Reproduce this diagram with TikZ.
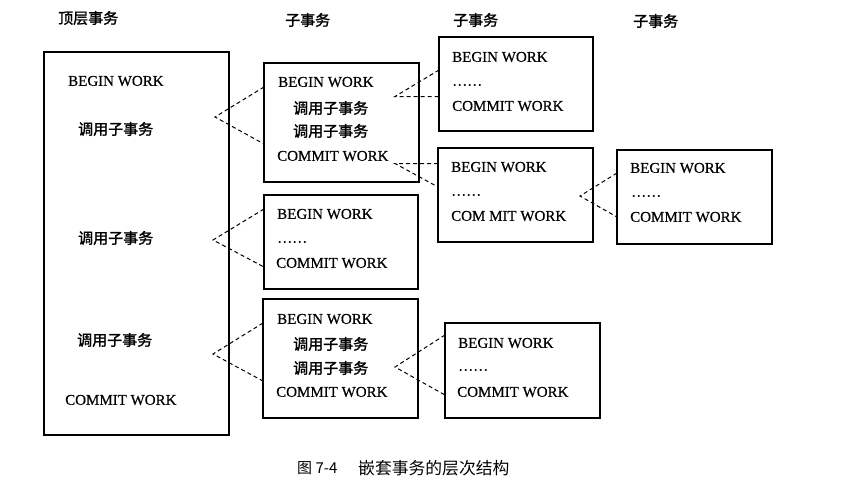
\documentclass[tikz,border=0pt]{standalone}
\usepackage{fontspec}
\setmainfont{Liberation Serif}
\newfontfamily\lat{Liberation Serif}[FakeBold=0.5]
\newfontfamily\cjk{Noto Sans CJK SC}
\newfontfamily\cjkb{Noto Sans CJK SC}[FakeBold=1.6]
\begin{document}
\begin{tikzpicture}[x=1pt,y=-1pt,
  tbox/.style={draw, line width=1.3pt, inner sep=0pt, outer sep=0pt},
  latin/.style={anchor=west, inner sep=0pt, font=\fontsize{15}{15}\selectfont\lat},
  zh/.style={anchor=west, inner sep=0pt, font=\fontsize{15}{15}\selectfont\cjkb},
  fork/.style={line width=1pt, dash pattern=on 4pt off 3pt}]
\useasboundingbox (0,0) rectangle (858,501);

% column headings
\node[zh] (h0) at (58,18) {顶层事务};
\node[zh] (h1) at (285,20) {子事务};
\node[zh] (h2) at (453,20) {子事务};
\node[zh] (h3) at (633,21) {子事务};

% transaction boxes
\node[tbox, minimum width=185pt, minimum height=383pt] (m)  at (136.5,243.5) {};
\node[tbox, minimum width=155pt, minimum height=119pt] (b1) at (341.5,122.5) {};
\node[tbox, minimum width=154pt, minimum height=94pt]  (b2) at (341,242) {};
\node[tbox, minimum width=155pt, minimum height=119pt] (b3) at (340.5,358.5) {};
\node[tbox, minimum width=154pt, minimum height=94pt]  (c1) at (516,84) {};
\node[tbox, minimum width=155pt, minimum height=94pt]  (c2) at (515.5,195) {};
\node[tbox, minimum width=155pt, minimum height=94pt]  (d)  at (694.5,197) {};
\node[tbox, minimum width=155pt, minimum height=95pt]  (c3) at (522.5,370.5) {};

% top-level transaction
\node[latin] (m1) at (68,81)  {BEGIN WORK};
\node[zh]    (m2) at (78,129) {调用子事务};
\node[zh]    (m3) at (78,238) {调用子事务};
\node[zh]    (m4) at (77,340) {调用子事务};
\node[latin] (m5) at (65,400) {COMMIT WORK};

% first level sub-transactions
\node[latin] (b1a) at (278,82)  {BEGIN WORK};
\node[zh]    (b1b) at (293,108) {调用子事务};
\node[zh]    (b1c) at (293,131) {调用子事务};
\node[latin] (b1d) at (277,156) {COMMIT WORK};

\node[latin] (b2a) at (277,214) {BEGIN WORK};
\node[latin] (b2b) at (277,242) {……};
\node[latin] (b2c) at (276,263) {COMMIT WORK};

\node[latin] (b3a) at (277,319) {BEGIN WORK};
\node[zh]    (b3b) at (293,344) {调用子事务};
\node[zh]    (b3c) at (293,368) {调用子事务};
\node[latin] (b3d) at (276,392) {COMMIT WORK};

% second level sub-transactions
\node[latin] (c1a) at (452,57)  {BEGIN WORK};
\node[latin] (c1b) at (452,85)  {……};
\node[latin] (c1c) at (452,106) {COMMIT WORK};

\node[latin] (c2a) at (451,167) {BEGIN WORK};
\node[latin] (c2b) at (451,195) {……};
\node[latin] (c2c) at (451,216) {COM MIT WORK};

\node[latin] (c3a) at (458,343) {BEGIN WORK};
\node[latin] (c3b) at (458,370) {……};
\node[latin] (c3c) at (457,392) {COMMIT WORK};

% third level sub-transaction
\node[latin] (da) at (630,168) {BEGIN WORK};
\node[latin] (db) at (631,196) {……};
\node[latin] (dc) at (630,217) {COMMIT WORK};

% call points
\coordinate (a1) at (215,117);
\coordinate (a2) at (213,240);
\coordinate (a3) at (213,354);
\coordinate (a4) at (395,96.5);
\coordinate (a5) at (395,163.5);
\coordinate (a6) at (580,196);
\coordinate (a7) at (395,367);

% dashed forks to the called transactions
\draw[fork] (b1.west |- 0,87)  -- (a1) -- (b1.west |- 0,144);
\draw[fork] (b2.west |- 0,209) -- (a2) -- (b2.west |- 0,267);
\draw[fork] (b3.west |- 0,323) -- (a3) -- (b3.west |- 0,381);
\draw[fork] (c1.west |- 0,70)  -- (a4) -- (c1.west |- 0,96.5);
\draw[fork] (c2.west |- 0,163.5) -- (a5) -- (c2.west |- 0,187);
\draw[fork] (d.west |- 0,173)  -- (a6) -- (d.west |- 0,217);
\draw[fork] (c3.west |- 0,335) -- (a7) -- (c3.west |- 0,395);

% caption
\node[anchor=west, inner sep=0pt, font=\fontsize{15}{15}\selectfont\cjk] (cap1) at (297,468) {图 7-4};
\node[anchor=west, inner sep=0pt, font=\fontsize{16.8}{16.8}\selectfont\cjk] (cap2) at (358,468) {嵌套事务的层次结构};
\end{tikzpicture}
\end{document}
